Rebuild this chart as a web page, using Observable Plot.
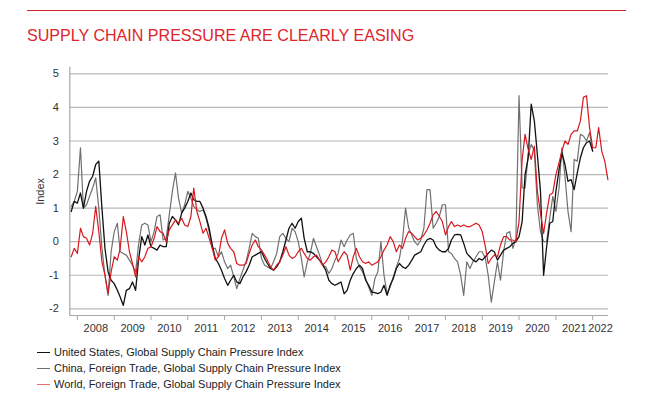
<!DOCTYPE html>
<html>
<head>
<meta charset="utf-8">
<script src="https://cdn.jsdelivr.net/npm/d3@7"></script>
<script src="https://cdn.jsdelivr.net/npm/@observablehq/plot@0.6"></script>
<style>
  body { margin: 0; background: #fff; font-family: "Liberation Sans", Arial, sans-serif; }
  #wrap { position: relative; width: 655px; height: 399px; overflow: hidden; background: #fff; }
  #head { position: relative; height: 55px; }
  #rule { position: absolute; left: 27px; top: 10px; width: 599px; height: 0; border-top: 1.5px solid #d0222a; }
  #title { position: absolute; left: 27px; top: 27px; font-size: 17px; line-height: 17px; color: #e0242b;
           white-space: nowrap; transform: scaleX(0.945); transform-origin: left top; }
  #chart svg { display: block; }
  #legend { padding-top: 1px; padding-left: 37px; font-size: 11px; color: #222; }
  .row { height: 16px; line-height: 16px; display: flex; align-items: center; white-space: nowrap; }
  .swatch { display: inline-block; width: 13px; height: 0; border-top: 1.6px solid; margin-right: 4px; }
</style>
</head>
<body>
<div id="wrap">
  <div id="head"><div id="rule"></div><div id="title">SUPPLY CHAIN PRESSURE ARE CLEARLY EASING</div></div>
  <div id="chart"></div>
  <div id="legend"></div>
</div>
<script>
// Monthly values, first month = November 2007
const seriesNames = [
  "United States, Global Supply Chain Pressure Index",
  "China, Foreign Trade, Global Supply Chain Pressure Index",
  "World, Foreign Trade, Global Supply Chain Pressure Index"
];
const seriesColors = ["#111111", "#707070", "#d7191f"];

const usValues = [
  0.9, 1.2,
  1.15, 1.45, 1.0, 1.5, 1.8, 1.95, 2.3, 2.4, 1.0, -0.2, -0.9, -1.15,
  -1.25, -1.45, -1.65, -1.9, -1.45, -1.4, -1.2, -1.45, -0.5, 0.15, -0.1, 0.2,
  -0.15, -0.2, -0.25, -0.1, -0.15, -0.15, 0.55, 0.75, 0.65, 0.5, 0.85, 1.0,
  1.2, 1.45, 1.25, 1.2, 1.2, 1.0, 0.75, 0.4, -0.1, -0.5, -0.65, -0.85,
  -1.1, -1.3, -1.15, -1.0, -1.2, -1.25, -1.05, -0.9, -0.7, -0.45, -0.4, -0.35,
  -0.3, -0.5, -0.65, -0.8, -0.85, -0.75, -0.6, -0.3, 0.05, 0.4, 0.55, 0.4,
  0.6, 0.7, 0.1, -0.3, -0.3, -0.35, -0.45, -0.55, -0.7, -0.85, -1.15, -1.25,
  -1.3, -1.25, -1.2, -1.55, -1.45, -1.15, -0.95, -0.8, -0.7, -0.8, -1.15, -1.3,
  -1.5, -1.52, -1.55, -1.5, -1.3, -1.6, -1.3, -1.1, -0.8, -0.65, -0.75, -0.8,
  -0.7, -0.55, -0.4, -0.35, -0.3, -0.1, 0.05, 0.1, 0.05, -0.15, -0.25, -0.3,
  -0.3, -0.2, 0.05, 0.2, 0.22, 0.2, -0.05, -0.35, -0.45, -0.55, -0.6, -0.5,
  -0.55, -0.45, -0.35, -0.25, -0.3, -0.55, -0.4, -0.25, -0.2, -0.15, -0.05, 0.0,
  0.15, 0.6, 2.0, 2.5, 4.1, 3.6, 2.6, 1.5, -1.0, -0.15, 0.55, 0.6,
  1.5, 2.15, 2.65, 2.3, 1.8, 1.85, 1.55, 2.05, 2.5, 2.8, 2.95, 3.0,
  2.7
];
const chinaValues = [
  1.05, 1.2,
  1.5, 2.8, 1.0, 1.1, 1.35, 1.6, 1.9, 1.0, -0.2, -1.0, -1.6, -0.3,
  0.3, 0.55, -0.3, -0.35, -0.4, -0.55, -0.7, -0.9, -0.05, 0.5, 0.55, 0.5,
  0.0, 0.3, 0.75, 0.8, 0.05, 0.1, 0.8, 1.5, 2.05, 1.3, 0.85, 1.1,
  1.5, 1.3, 1.05, 0.95, 0.9, 0.95, 0.7, 0.3, -0.2, -0.2, -0.45, -0.3,
  -0.6, -0.8, -0.7, -1.05, -1.4, -1.1, -0.85, -0.6, -0.2, 0.25, 0.15, 0.1,
  -0.5, -0.7, -0.75, -0.8, -0.6, -0.35, 0.15, 0.25, 0.1, 0.0, 0.4, 0.3,
  0.0, -0.5, -1.05, -0.6, -0.35, 0.1, -0.15, -0.4, -0.7, -0.75, -0.95, -0.8,
  -0.55, -0.35, 0.05, -0.15, 0.05, 0.2, 0.25, -0.5, -0.75, -0.9, -1.1, -1.35,
  -1.6, -1.1, -0.9, 0.0, -1.0, -1.55, -1.35, -1.05, -0.75, -0.5, 0.05, 1.0,
  0.4, 0.2, 0.0, -0.1, 0.05, 0.4, 1.55, 1.55, 0.4, 0.55, 0.75, 1.1,
  1.1, -0.3, -0.35, -0.5, -0.6, -1.0, -1.6, -0.6, -0.8, -0.6, -0.45, -0.3,
  -0.3, -0.5, -1.0, -1.8, -1.2, -0.6, -1.15, -0.3, 0.25, 0.3, -0.2, 0.1,
  4.35, 1.6, 1.6, 2.6, 2.9, 2.7, 1.1, 0.3, 0.0, 0.0, 0.7, 1.35,
  0.9, 1.6, 2.8, 1.95, 0.9, 0.3, 2.45, 2.4, 3.2, 3.15, 3.0, 3.25,
  2.7
];
const worldValues = [
  -0.45, -0.2,
  -0.35, 0.4, 0.15, 0.1, -0.1, 0.25, 1.05, 0.3, -0.6, -1.0, -1.55, -0.9,
  -0.45, -0.55, -0.2, 0.75, 0.3, -0.3, -0.65, -1.05, -0.45, -0.6, -0.45, -0.2,
  -0.15, 0.1, 0.45, 0.3, 0.25, 0.0, 0.35, 0.5, 0.65, 0.55, 0.7, 0.5,
  0.45, 0.75, 1.6, 0.9, 0.6, 0.25, 0.4, 0.1, -0.2, -0.55, -0.45, 0.1,
  0.35, -0.05, -0.2, -0.3, -0.65, -0.7, -0.7, -0.65, -0.35, -0.1, 0.05, -0.15,
  -0.25, -0.4, -0.55, -0.75, -0.85, -0.7, -0.6, -0.4, -0.15, -0.4, -0.5, -0.45,
  -0.3, -0.2, -0.35, -0.5, -0.55, -0.45, -0.4, -0.55, -0.7, -0.6, -0.45, -0.25,
  -0.3, -0.6, -0.45, -0.3, -0.4, -0.85, -0.45, -0.2, -0.45, -0.6, -0.65, -0.6,
  -0.7, -0.65, -0.6, -0.45, -0.25, -0.1, 0.15, 0.0, -0.3, -0.1, -0.2, 0.1,
  0.3, 0.25, 0.15, 0.05, 0.1, 0.2, 0.35, 0.55, 0.8, 0.9, 0.75, 0.6,
  0.2, 0.45, 0.6, 0.45, 0.5, 0.45, 0.5, 0.45, 0.45, 0.5, 0.55, 0.5,
  0.3, -0.15, -0.65, -0.5, -0.4, -0.45, -0.1, 0.15, 0.15, 0.05, 0.05, 0.0,
  0.6, 2.45, 3.2, 2.75, 2.45, 2.85, 1.5, 0.85, 0.25, 0.85, 1.4, 1.45,
  2.0, 2.35, 2.7, 3.0, 2.9, 3.2, 3.3, 3.3, 3.6, 4.3, 4.35, 3.4,
  2.8, 2.8, 3.4, 2.7, 2.4, 1.85
];
const years = [2008, 2009, 2010, 2011, 2012, 2013, 2014, 2015, 2016, 2017, 2018, 2019, 2020, 2021, 2022];
const yTicks = [-2, -1, 0, 1, 2, 3, 4, 5];

const monthDate = i => new Date(Date.UTC(2007, 10 + i, 1));
const toRows = (values, name) => values.map((v, i) => ({date: monthDate(i), value: v, series: name}));
const us = toRows(usValues, seriesNames[0]);
const china = toRows(chinaValues, seriesNames[1]);
const world = toRows(worldValues, seriesNames[2]);

const xStart = new Date(Date.UTC(2007, 9, 18));
const xEnd = new Date(Date.UTC(2022, 5, 7));
const yearStarts = years.map(y => new Date(Date.UTC(y, 0, 1)));
// label sits in the middle of the visible part of each year
const yearMids = years.map(y => {
  const a = Date.UTC(y, 0, 1);
  const b = Math.min(Date.UTC(y + 1, 0, 1), +xEnd);
  return new Date((a + b) / 2);
});

const chart = Plot.plot({
  width: 655,
  height: 288,
  marginLeft: 69.3,
  marginRight: 47,
  marginTop: 11.7,
  marginBottom: 28,
  x: {type: "utc", domain: [xStart, xEnd]},
  y: {domain: [-2.2, 5.2]},
  style: {fontFamily: "'Liberation Sans', Arial, sans-serif", fontSize: "11px", color: "#333", background: "#fff"},
  marks: [
    Plot.gridY(yTicks, {stroke: "#b8b8b8", strokeOpacity: 1, strokeWidth: 1.2}),
    Plot.ruleY([-2.2], {stroke: "#a8a8a8", strokeWidth: 1.2}),
    Plot.ruleX([xStart], {stroke: "#a8a8a8", strokeWidth: 1.2}),
    Plot.axisY(yTicks, {tickSize: 0, tickPadding: 11, label: "Index", labelAnchor: "center", labelArrow: "none",
      labelOffset: 34, tickFormat: d => (d < 0 ? "-" + Math.abs(d) : String(d))}),
    Plot.axisX(yearStarts, {tickSize: 5, tickFormat: () => "", stroke: "#a8a8a8", label: null}),
    Plot.axisX(yearMids, {tickSize: 0, tickPadding: 9, tickFormat: d => String(d.getUTCFullYear()), label: null}),
    Plot.line(china, {x: "date", y: "value", stroke: seriesColors[1], strokeWidth: 1.2}),
    Plot.line(us, {x: "date", y: "value", stroke: seriesColors[0], strokeWidth: 1.3}),
    Plot.line(world, {x: "date", y: "value", stroke: seriesColors[2], strokeWidth: 1.2})
  ]
});
document.getElementById("chart").appendChild(chart);

const legend = document.getElementById("legend");
seriesNames.forEach((name, i) => {
  const row = document.createElement("div");
  row.className = "row";
  const sw = document.createElement("span");
  sw.className = "swatch";
  sw.style.borderTopColor = i === 2 ? "#e87070" : seriesColors[i];
  const tx = document.createElement("span");
  tx.textContent = name;
  row.appendChild(sw);
  row.appendChild(tx);
  legend.appendChild(row);
});
</script>
</body>
</html>
